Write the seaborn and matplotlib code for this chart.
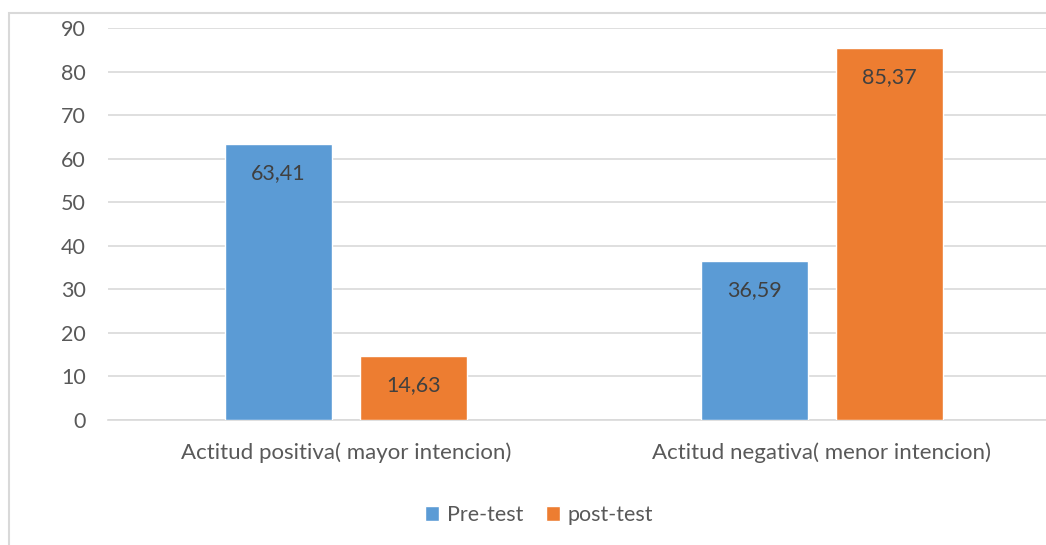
import pandas as pd
import matplotlib.pyplot as plt
import seaborn as sns
from matplotlib.patches import Rectangle

categories = ["Actitud positiva( mayor intencion)", "Actitud negativa( menor intencion)"]
groups = ["Pre-test", "post-test"]
pre_test = [63.41, 36.59]
post_test = [14.63, 85.37]
y_ticks = [0, 10, 20, 30, 40, 50, 60, 70, 80, 90]

df = pd.DataFrame({
    "categoria": categories * 2,
    "grupo": [groups[0]] * 2 + [groups[1]] * 2,
    "valor": pre_test + post_test,
})

sns.set_style("white")
plt.rcParams["font.family"] = ["Lato", "DejaVu Sans"]
text_col = "#595959"
fs = 15.5

fig = plt.figure(figsize=(10.46, 5.45), dpi=100)
ax = fig.add_axes([108 / 1046, 125 / 545, 952 / 1046, 392 / 545])

# outer chart border (Excel style), cut by the right/bottom edge
fig.patches.append(Rectangle((9 / 1046, -0.05), 1.1, 0.05 + (545 - 13) / 545,
                             transform=fig.transFigure, fill=False,
                             edgecolor="#D9D9D9", linewidth=1.5, zorder=0))

sns.barplot(data=df, x="categoria", y="valor", hue="grupo",
            palette=["#5B9BD5", "#ED7D31"], width=0.567, gap=0.207,
            saturation=1, ax=ax, zorder=3)

for cont in ax.containers:
    labels = [f"{v:.2f}".replace(".", ",") for v in cont.datavalues]
    for bar, lab in zip(cont, labels):
        ax.annotate(lab, (bar.get_x() + bar.get_width() / 2, bar.get_height()),
                    xytext=(0, -21), textcoords="offset points",
                    ha="center", va="center", fontsize=fs, color="#404040")

ax.set_ylim(0, 90)
ax.set_xlim(-0.5, 1.5)
ax.set_yticks(y_ticks)
ax.yaxis.grid(True, color="#D9D9D9", linewidth=1.2, zorder=0)
ax.set_axisbelow(True)
for s in ["top", "right", "left"]:
    ax.spines[s].set_visible(False)
ax.spines["bottom"].set_color("#D9D9D9")
ax.spines["bottom"].set_linewidth(1.2)

ax.set_xticks([-0.5, 0.5, 1.5], minor=False)
ax.set_xticklabels(["", "", ""])
ax.tick_params(axis="x", which="major", length=5, color="#D9D9D9", width=1.2)
ax.set_xticks([0, 1], minor=True)
ax.set_xticklabels(categories, minor=True)
ax.tick_params(axis="x", which="minor", length=0, pad=16, labelsize=16, labelcolor=text_col)
ax.tick_params(axis="y", length=0, pad=16, labelsize=fs, labelcolor=text_col)
ax.set_xlabel("")
ax.set_ylabel("")

ax.legend(loc="center", bbox_to_anchor=(539 / 1046, 30 / 545),
          bbox_transform=fig.transFigure, ncol=2, frameon=False,
          fontsize=fs, labelcolor=text_col, handlelength=0.65, handleheight=0.65,
          handletextpad=0.33, columnspacing=1.07)

fig.savefig("out.png", dpi=100)
